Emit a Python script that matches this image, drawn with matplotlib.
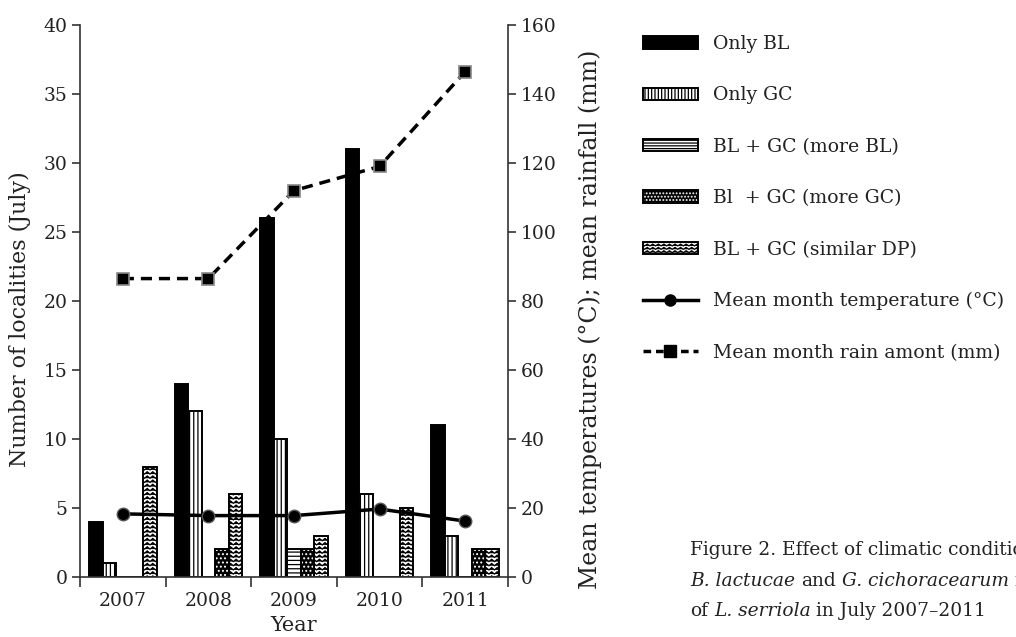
import warnings
warnings.filterwarnings("ignore")
import numpy as np
import matplotlib
matplotlib.use("Agg")
import matplotlib.pyplot as plt
import matplotlib.hatch as mhatch
import matplotlib.transforms as mtransforms
from matplotlib.path import Path
from matplotlib.patches import Patch
from matplotlib.lines import Line2D

# ---------------- data ----------------
years = ["2007", "2008", "2009", "2010", "2011"]
only_bl = [4, 14, 26, 31, 11]
only_gc = [1, 12, 10, 6, 3]
more_bl = [0, 0, 2, 0, 0]
more_gc = [0, 2, 2, 0, 2]
similar_dp = [8, 6, 3, 5, 2]
temperature = [18.3, 17.8, 17.8, 19.7, 16.2]
rainfall = [86.5, 86.5, 112, 119, 146.5]
left_ticks = [0, 5, 10, 15, 20, 25, 30, 35, 40]
right_ticks = [0, 20, 40, 60, 80, 100, 120, 140, 160]

labels = ["Only BL", "Only GC", "BL + GC (more BL)", "Bl  + GC (more GC)",
          "BL + GC (similar DP)", "Mean month temperature (°C)",
          "Mean month rain amont (mm)"]


# ---------------- custom zigzag hatch ----------------
class ZigZagHatch(mhatch.HatchPatternBase):
    TEETH = 18

    def __init__(self, hatch, density):
        self.num_lines = int(hatch.count('z') * density)
        self.num_vertices = self.num_lines * (2 * self.TEETH + 1)

    def set_vertices_and_codes(self, vertices, codes):
        steps, stepsize = np.linspace(0.0, 1.0, self.num_lines, False, retstep=True)
        steps += stepsize / 2.
        n = 2 * self.TEETH + 1
        xs = np.linspace(0.0, 1.0, n)
        amp = np.where(np.arange(n) % 2 == 0, -0.28, 0.28) * stepsize
        for i, s in enumerate(steps):
            vertices[i * n:(i + 1) * n, 0] = xs
            vertices[i * n:(i + 1) * n, 1] = s + amp
            codes[i * n] = Path.MOVETO
            codes[i * n + 1:(i + 1) * n] = Path.LINETO


mhatch._hatch_types.append(ZigZagHatch)
mhatch._validate_hatch_pattern = lambda h: None

plt.rcParams['font.family'] = ['DejaVu Serif']
plt.rcParams['hatch.linewidth'] = 0.9

fig = plt.figure(figsize=(10.16, 6.37), dpi=100)
ax = fig.add_axes([80 / 1016, 60 / 637, 428 / 1016, 552 / 637])
ax2 = ax.twinx()

x = np.arange(len(years))
w = 0.158
ec = 'black'
lw = 1.4

ax.bar(x - 2 * w, only_bl, w, color='black', edgecolor=ec, linewidth=lw, zorder=2)
ax.bar(x - w, only_gc, w, color='white', edgecolor=ec, linewidth=lw, hatch='||||', zorder=2)
ax.bar(x, more_bl, w, color='white', edgecolor=ec, linewidth=lw, hatch='----', zorder=2)
ax.bar(x + w, more_gc, w, color='black', edgecolor='white', linewidth=0, hatch='....', zorder=2)
ax.bar(x + w, more_gc, w, fill=False, edgecolor=ec, linewidth=lw, zorder=2)
ax.bar(x + 2 * w, similar_dp, w, color='white', edgecolor=ec, linewidth=lw, hatch='zzzz', zorder=2)

ax2.plot(x, temperature, color='black', lw=2.5, marker='o', ms=9,
         mfc='black', mec='#555555', mew=1, zorder=3)
ax2.plot(x, rainfall, color='black', lw=2.5, ls=(0, (3.2, 2)), marker='s', ms=8,
         mfc='black', mec='#888888', mew=1.2, zorder=3)

ax.set_xlim(-0.5, 4.5)
ax.set_ylim(0, 40)
ax2.set_ylim(0, 160)
ax.set_yticks(left_ticks)
ax2.set_yticks(right_ticks)

ax.set_xticks(np.arange(-0.5, 5, 1.0))
ax.set_xticklabels([])
ax.set_xticks(x, minor=True)
ax.set_xticklabels(years, minor=True)
ax.tick_params(axis='x', which='major', length=7, width=1.2, color='#333333', direction='out')
ax.tick_params(axis='x', which='minor', length=0, pad=11, labelsize=13.5, labelcolor='#222222')
ax.tick_params(axis='y', length=6, width=1.2, color='#333333', pad=3, labelsize=13.5,
               labelcolor='#222222')
ax2.tick_params(axis='y', length=6, width=1.2, color='#333333', pad=3, labelsize=13.5,
                labelcolor='#222222')

for a in (ax, ax2):
    a.spines['top'].set_visible(False)
    for s in a.spines.values():
        s.set_color('#333333')
        s.set_linewidth(1.2)
ax.spines['right'].set_visible(False)
ax2.spines['left'].set_visible(False)
ax2.spines['bottom'].set_visible(False)

ax.set_xlabel("Year", fontsize=15, labelpad=4, color='#222222')
ax.set_ylabel("Number of localities (July)", fontsize=15.9, color='#222222')
ax2.set_ylabel("Mean temperatures (°C); mean rainfall (mm)", fontsize=17, color='#222222')
ax.yaxis.set_label_coords(-0.1145, 0.467)
ax2.yaxis.set_label_coords(1.1636, 0.467)

# ---------------- legend ----------------
handles = [
    Patch(facecolor='black', edgecolor='black', linewidth=lw),
    Patch(facecolor='white', edgecolor='black', linewidth=lw, hatch='|||||'),
    Patch(facecolor='white', edgecolor='black', linewidth=lw, hatch='------'),
    (Patch(facecolor='black', edgecolor='white', linewidth=0, hatch='.....'),
     Patch(fill=False, edgecolor='black', linewidth=lw)),
    Patch(facecolor='white', edgecolor='black', linewidth=lw, hatch='zzzzz'),
    Line2D([], [], color='black', lw=2.5, marker='o', ms=8, mfc='black', mec='black'),
    Line2D([], [], color='black', lw=2.5, ls=(0, (2.2, 1.4)), marker='s', ms=8,
           mfc='black', mec='black'),
]
leg = fig.legend(handles, labels, loc='upper left',
                 bbox_to_anchor=(643 / 1016, (637 - 35) / 637),
                 frameon=False, fontsize=13.6, borderpad=0, borderaxespad=0,
                 handlelength=2.9, handleheight=0.63, handletextpad=0.8,
                 labelspacing=1.77, labelcolor='#222222')

# ---------------- caption ----------------
fig.canvas.draw()
renderer = fig.canvas.get_renderer()
ident = mtransforms.IdentityTransform()
cap_size = 13.4


def width_of(s, style):
    t = fig.text(0, 0, s, fontsize=cap_size, fontstyle=style, transform=ident)
    wd = t.get_window_extent(renderer).width
    t.remove()
    return wd


space_w = width_of("x x", 'normal') - width_of("xx", 'normal')

caption_lines = [
    [("Figure 2. Effect of climatic conditions", 'normal')],
    [("B. lactucae", 'italic'), ("and", 'normal'), ("G. cichoracearum", 'italic'),
     ("in", 'normal')],
    [("of", 'normal'), ("L. serriola", 'italic'), ("in July 2007–2011", 'normal')],
]
baselines = [555, 586, 616]
for parts, yb in zip(caption_lines, baselines):
    cx = 690
    for s, st in parts:
        t = fig.text(cx, 637 - yb, s, fontsize=cap_size, fontstyle=st,
                     transform=ident, va='baseline', color='#222222')
        cx += t.get_window_extent(renderer).width + space_w

fig.savefig("out.png", dpi=100)
